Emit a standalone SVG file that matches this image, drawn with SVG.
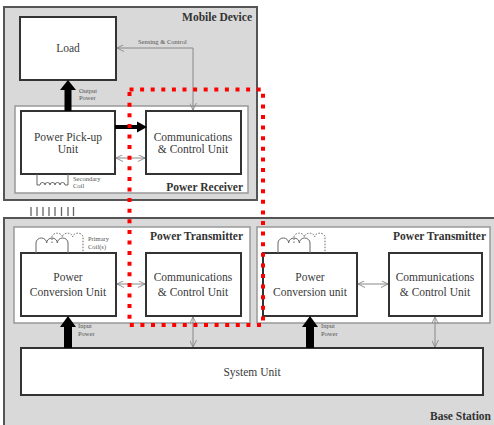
<svg xmlns="http://www.w3.org/2000/svg" width="494" height="425" viewBox="0 0 494 425">
<style>
.cont{fill:#d9d9d9;stroke:#555;stroke-width:2}
.sub{fill:#fff;stroke:#999;stroke-width:1.5}
.node{fill:#fff;stroke:#333;stroke-width:2}
.t{font-family:"Liberation Serif",serif;font-size:11.5px;fill:#3a3a3a;text-anchor:middle}
.h{font-family:"Liberation Serif",serif;font-size:11.5px;font-weight:bold;fill:#333;text-anchor:end}
.s{font-family:"Liberation Serif",serif;font-size:6.5px;fill:#555}
.thin{fill:none;stroke:#888;stroke-width:1}
.coil{fill:none;stroke:#666;stroke-width:1}
.dot{stroke-dasharray:1.5 1.5}
.thick{fill:#000}
</style>
<defs>
<marker id="v" viewBox="0 0 10 10" refX="10" refY="5" markerWidth="7" markerHeight="7" orient="auto-start-reverse" markerUnits="userSpaceOnUse">
<path d="M0,0 L10,5 L0,10" fill="none" stroke="#888" stroke-width="1.3"/>
</marker>
</defs>

<g id="mobile-device">
<rect class="cont" x="4" y="7" width="253" height="193"/>
<text class="h" x="252" y="21">Mobile Device</text>
</g>
<g id="power-receiver">
<rect class="sub" x="15" y="106" width="233" height="87"/>
<text class="h" x="243" y="191">Power Receiver</text>
</g>
<g id="base-station">
<rect class="cont" x="4" y="218" width="496" height="212"/>
<text class="h" x="491" y="420">Base Station</text>
</g>
<g id="power-transmitter-1">
<rect class="sub" x="14" y="227" width="236" height="96"/>
<text class="h" x="243" y="240">Power Transmitter</text>
</g>
<g id="power-transmitter-2">
<rect class="sub" x="257" y="227" width="233" height="96"/>
<text class="h" x="486" y="240">Power Transmitter</text>
</g>

<g id="load">
<rect class="node" x="20" y="17" width="96" height="63"/>
<text class="t" x="68" y="52">Load</text>
</g>
<g id="power-pickup-unit">
<rect class="node" x="21" y="111" width="94" height="63"/>
<text class="t" x="68" y="141">Power Pick-up</text>
<text class="t" x="68" y="153">Unit</text>
</g>
<g id="rx-comm-control">
<rect class="node" x="146" y="111" width="95" height="63"/>
<text class="t" x="193" y="141">Communications</text>
<text class="t" x="193" y="153">&amp; Control Unit</text>
</g>
<g id="power-conversion-unit-1">
<rect class="node" x="21" y="253" width="95" height="63"/>
<text class="t" x="68" y="281">Power</text>
<text class="t" x="68" y="296">Conversion Unit</text>
</g>
<g id="tx1-comm-control">
<rect class="node" x="146" y="253" width="95" height="63"/>
<text class="t" x="193" y="281">Communications</text>
<text class="t" x="193" y="296">&amp; Control Unit</text>
</g>
<g id="power-conversion-unit-2">
<rect class="node" x="263" y="253" width="94" height="63"/>
<text class="t" x="310" y="281">Power</text>
<text class="t" x="310" y="296">Conversion unit</text>
</g>
<g id="tx2-comm-control">
<rect class="node" x="389" y="253" width="93" height="63"/>
<text class="t" x="435" y="281">Communications</text>
<text class="t" x="435" y="296">&amp; Control Unit</text>
</g>
<g id="system-unit">
<rect class="node" x="21" y="348" width="462" height="47"/>
<text class="t" x="252" y="376">System Unit</text>
</g>

<g id="coils">
<path class="coil" d="M37,174 V185 H40 a2.5,2.5 0 0 1 5,0 a2.5,2.5 0 0 1 5,0 a2.5,2.5 0 0 1 5,0 a2.5,2.5 0 0 1 5,0 a2.5,2.5 0 0 1 5,0 H68 V174"/>
<text class="s" x="73" y="181">Secondary</text>
<text class="s" x="73" y="188">Coil</text>
<path class="coil" d="M36,253 V243 a5.33,5 0 0 1 10.67,0 a5.33,5 0 0 1 10.67,0 a5.33,5 0 0 1 10.67,0 V253"/>
<path class="coil dot" d="M52,243 V237 a5.17,4 0 0 1 10.33,0 a5.17,4 0 0 1 10.33,0 a5.17,4 0 0 1 10.33,0 V253"/>
<text class="s" x="88" y="241">Primary</text>
<text class="s" x="88" y="249">Coil(s)</text>
<path class="coil" d="M278,253 V243 a5.33,5 0 0 1 10.67,0 a5.33,5 0 0 1 10.67,0 a5.33,5 0 0 1 10.67,0 V253"/>
<path class="coil dot" d="M294,243 V237 a5.17,4 0 0 1 10.33,0 a5.17,4 0 0 1 10.33,0 a5.17,4 0 0 1 10.33,0 V253"/>
<g stroke="#666" stroke-width="1.3">
<line x1="31" y1="207" x2="31" y2="216"/>
<line x1="37" y1="207" x2="37" y2="216"/>
<line x1="43" y1="207" x2="43" y2="216"/>
<line x1="49" y1="207" x2="49" y2="216"/>
<line x1="55" y1="207" x2="55" y2="216"/>
<line x1="61.5" y1="207" x2="61.5" y2="216"/>
<line x1="68" y1="207" x2="68" y2="216"/>
<line x1="73.5" y1="207" x2="73.5" y2="216"/>
</g>
</g>

<g id="connectors">
<rect class="thick" x="64.5" y="90" width="7" height="21"/>
<polygon class="thick" points="60,90 68,80 76,90"/>
<text class="s" x="79" y="93">Output</text>
<text class="s" x="79" y="100">Power</text>
<rect class="thick" x="115" y="125" width="23" height="4"/>
<polygon class="thick" points="137,121.5 147,127 137,132.5"/>
<line class="thin" x1="116" y1="158" x2="145" y2="158" marker-start="url(#v)" marker-end="url(#v)"/>
<path class="thin" d="M193,110 V48 H117" marker-start="url(#v)" marker-end="url(#v)"/>
<text class="s" x="138" y="44">Sensing &amp; Control</text>
<line class="thin" x1="117" y1="284" x2="145" y2="284" marker-start="url(#v)" marker-end="url(#v)"/>
<line class="thin" x1="358" y1="284" x2="388" y2="284" marker-start="url(#v)" marker-end="url(#v)"/>
<rect class="thick" x="64" y="326" width="8" height="22"/>
<polygon class="thick" points="60,327 68,316 76,327"/>
<text class="s" x="78" y="328">Input</text>
<text class="s" x="78" y="336">Power</text>
<rect class="thick" x="306" y="326" width="8" height="22"/>
<polygon class="thick" points="302,327 310,316 318,327"/>
<text class="s" x="321" y="328">Input</text>
<text class="s" x="321" y="336">Power</text>
<line class="thin" x1="193" y1="317" x2="193" y2="347" marker-start="url(#v)" marker-end="url(#v)"/>
<line class="thin" x1="435" y1="317" x2="435" y2="347" marker-start="url(#v)" marker-end="url(#v)"/>
</g>

<g id="highlight">
<rect x="129.5" y="89.5" width="133.5" height="235.5" fill="none" stroke="#ff0000" stroke-width="4" stroke-dasharray="4 6.6"/>
</g>
</svg>
